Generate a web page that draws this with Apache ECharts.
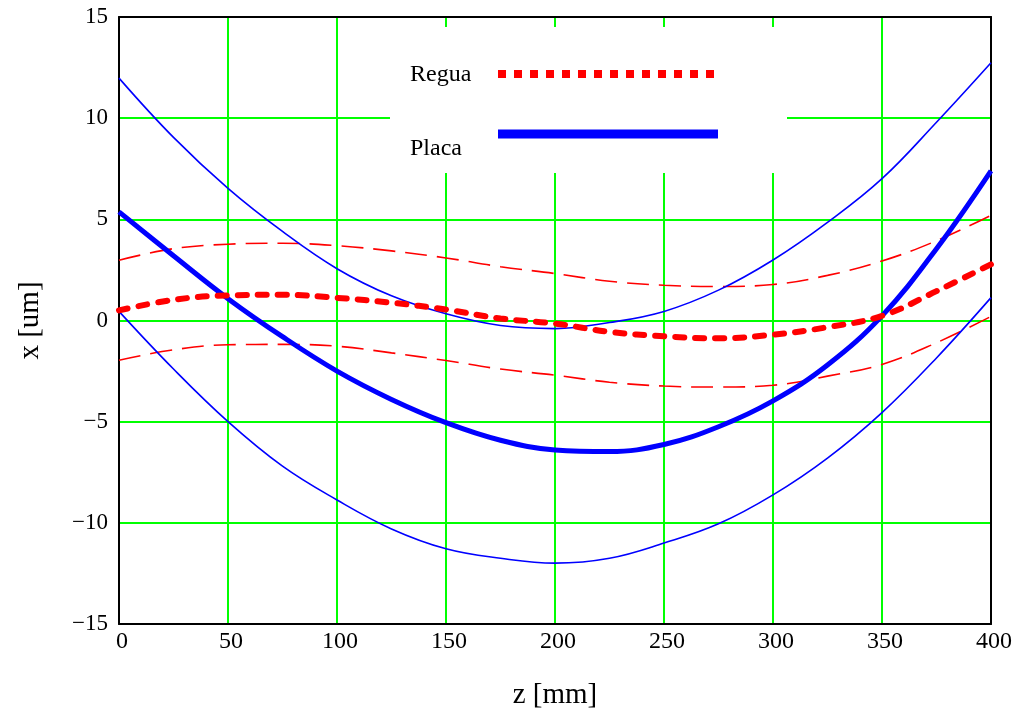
<!DOCTYPE html>
<html>
<head>
<meta charset="utf-8">
<script src="https://cdn.jsdelivr.net/npm/echarts@6/dist/echarts.min.js"></script>
<style>html,body{margin:0;padding:0;background:#fff;}#c{width:1021px;height:715px;}</style>
</head>
<body>
<div id="c"></div>
<script>
const zValues = [0,25,50,75,100,125,150,175,200,225,250,275,300,325,350,375,400];
const placa      = [5.37,3.2,1.08,-0.8,-2.5,-3.9,-5.05,-5.92,-6.4,-6.48,-6.13,-5.25,-3.97,-2.2,0.23,3.55,7.4];
const placaUpper = [11.98,9.05,6.53,4.4,2.56,1.22,0.33,-0.25,-0.4,-0.1,0.45,1.5,2.99,4.85,7.01,9.8,12.74];
const placaLower = [0.45,-2.4,-5.0,-7.2,-8.87,-10.3,-11.28,-11.75,-11.99,-11.75,-11.0,-10.05,-8.62,-6.8,-4.55,-1.85,1.13];
const regua      = [0.5,1.02,1.24,1.27,1.12,0.88,0.54,0.1,-0.15,-0.56,-0.78,-0.88,-0.7,-0.33,0.23,1.45,2.78];
const reguaUpper = [2.98,3.55,3.77,3.82,3.7,3.44,3.09,2.66,2.32,1.94,1.74,1.68,1.78,2.23,2.94,3.94,5.2];
const reguaLower = [-1.96,-1.45,-1.2,-1.18,-1.27,-1.6,-1.98,-2.4,-2.7,-3.05,-3.24,-3.29,-3.2,-2.75,-2.17,-1.1,0.2];
const legendNames = ['Regua','Placa'];
const xTicks = {min:0,max:400,interval:50};
const yTicks = {min:-15,max:15,interval:5};

const pts = arr => zValues.map((z,i)=>[z,arr[i]]);
const font = '"Liberation Serif","DejaVu Serif",serif';
const fmt = v => String(v).replace('-', '\u2212');
const borderAxis = {show:true,onZero:false,lineStyle:{color:'#000',width:2}};

const chart = echarts.init(document.getElementById('c'), null, {renderer:'canvas'});
chart.setOption({
  animation:false,
  backgroundColor:'#fff',
  grid:{left:119,top:17,width:872,height:608,show:false},
  xAxis:[{type:'value',min:xTicks.min,max:xTicks.max,interval:xTicks.interval,
    name:'z [mm]',nameLocation:'middle',nameGap:57,
    nameTextStyle:{fontFamily:font,fontSize:29,color:'#000'},
    axisLine:borderAxis,
    axisTick:{show:false},
    axisLabel:{fontFamily:font,fontSize:24,color:'#000',margin:6,padding:[0,0,0,6],formatter:fmt},
    splitLine:{show:true,lineStyle:{color:'#00ff00',width:2}}},
    {type:'value',position:'top',min:xTicks.min,max:xTicks.max,interval:xTicks.interval,
    axisLine:borderAxis,axisTick:{show:false},axisLabel:{show:false},splitLine:{show:false}}],
  yAxis:[{type:'value',min:yTicks.min,max:yTicks.max,interval:yTicks.interval,
    name:'x [um]',nameLocation:'middle',nameGap:74,nameRotate:90,
    nameTextStyle:{fontFamily:font,fontSize:29,color:'#000'},
    axisLine:borderAxis,
    axisTick:{show:false},
    axisLabel:{fontFamily:font,fontSize:23,color:'#000',margin:11,padding:[8,0,0,0],formatter:fmt},
    splitLine:{show:true,lineStyle:{color:'#00ff00',width:2}}},
    {type:'value',position:'right',min:yTicks.min,max:yTicks.max,interval:yTicks.interval,
    axisLine:borderAxis,axisTick:{show:false},axisLabel:{show:false},splitLine:{show:false}}],
  series:[
    {name:'reguaUpper',type:'line',data:pts(reguaUpper),smooth:0.4,showSymbol:false,
      lineStyle:{color:'#ff0000',width:1.6,type:[22,10]}},
    {name:'reguaLower',type:'line',data:pts(reguaLower),smooth:0.4,showSymbol:false,
      lineStyle:{color:'#ff0000',width:1.6,type:[22,10]}},
    {name:'placaUpper',type:'line',data:pts(placaUpper),smooth:0.4,showSymbol:false,
      lineStyle:{color:'#0000ff',width:1.6}},
    {name:'placaLower',type:'line',data:pts(placaLower),smooth:0.4,showSymbol:false,
      lineStyle:{color:'#0000ff',width:1.6}},
    {name:legendNames[1],type:'line',data:pts(placa),smooth:0.4,showSymbol:false,
      lineStyle:{color:'#0000ff',width:5}},
    {name:legendNames[0],type:'line',data:pts(regua),smooth:0.4,showSymbol:false,
      lineStyle:{color:'#ff0000',width:6,type:[9,11],cap:'round'}}
  ],
  graphic:[
    {type:'rect',z:100,shape:{x:390,y:27,width:397,height:146},style:{fill:'#fff'}},
    {type:'text',z:101,x:410,y:75,style:{text:legendNames[0],font:'24px '+font,fill:'#000',verticalAlign:'middle'}},
    {type:'text',z:101,x:410,y:149,style:{text:legendNames[1],font:'24px '+font,fill:'#000',verticalAlign:'middle'}},
    {type:'line',z:101,shape:{x1:498,y1:74,x2:715,y2:74},style:{stroke:'#ff0000',lineWidth:8,lineDash:[8,8]}},
    {type:'line',z:101,shape:{x1:498,y1:134,x2:718,y2:134},style:{stroke:'#0000ff',lineWidth:9}}
  ]
});
</script>
</body>
</html>
